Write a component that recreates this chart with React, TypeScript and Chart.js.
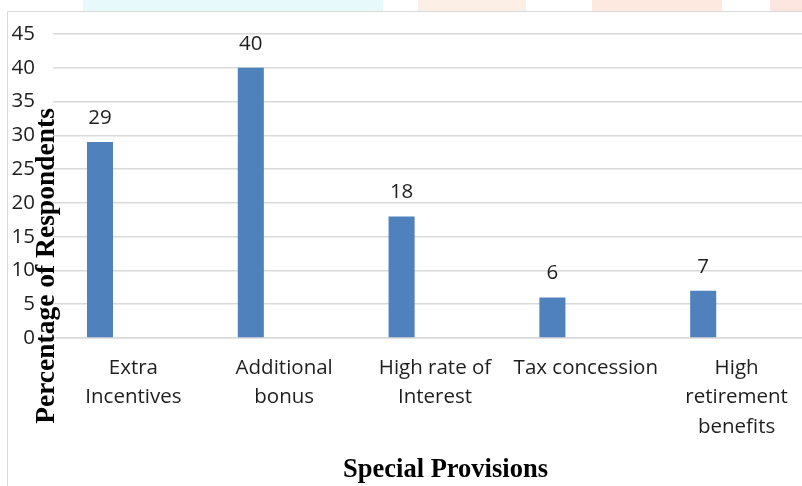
import React, { useEffect, useRef } from "react";
import { Chart, registerables } from "chart.js";

Chart.register(...registerables);

const categories: string[][] = [
  ["Extra", "Incentives"],
  ["Additional", "bonus"],
  ["High rate of", "Interest"],
  ["Tax concession"],
  ["High", "retirement", "benefits"],
];
const values: number[] = [29, 40, 18, 6, 7];
const emptySeries: (number | null)[] = [null, null, null, null, null];
const yMin = 0;
const yMax = 45;
const yStep = 5;
const yAxisTitle = "Percentage of Respondents";
const xAxisTitle = "Special Provisions";

const W = 812;
const H = 486;
const TEXT = "#1e1e1e";
const GRID = "#d9d9d9";
const TICK_FONT = "'Open Sans'";
const TICK_SIZE = 20.5;

const decorPlugin = {
  id: "decor",
  beforeDraw(chart: any) {
    const ctx = chart.ctx;
    ctx.save();
    ctx.fillStyle = "#ffffff";
    ctx.fillRect(0, 0, chart.width, chart.height);
    // faint page background bleed at the top
    ctx.fillStyle = "#e8f9fb";
    ctx.fillRect(83, 0, 300, 11);
    ctx.fillStyle = "#fcf0e6";
    ctx.fillRect(418, 0, 108, 11);
    ctx.fillStyle = "#fde9df";
    ctx.fillRect(592, 0, 130, 11);
    ctx.fillStyle = "#fde6e0";
    ctx.fillRect(770, 0, 40, 11);
    // chart frame
    ctx.strokeStyle = GRID;
    ctx.lineWidth = 1;
    ctx.beginPath();
    ctx.moveTo(7.5, chart.height);
    ctx.lineTo(7.5, 11.5);
    ctx.lineTo(chart.width, 11.5);
    ctx.stroke();
    ctx.restore();
  },
  afterDraw(chart: any) {
    const ctx = chart.ctx;
    ctx.save();
    // data labels
    const meta = chart.getDatasetMeta(0);
    ctx.fillStyle = TEXT;
    ctx.font = `${TICK_SIZE}px ${TICK_FONT}`;
    ctx.textAlign = "center";
    ctx.textBaseline = "alphabetic";
    meta.data.forEach((bar: any, i: number) => {
      ctx.fillText(String(values[i]), bar.x, bar.y - 18);
    });
    // axis titles
    ctx.fillStyle = "#000000";
    ctx.textAlign = "center";
    ctx.font = "bold 26.5px 'Liberation Serif', 'DejaVu Serif', serif";
    ctx.fillText(xAxisTitle, 445.5, 477);
    ctx.font = "bold 27.5px 'Liberation Serif', 'DejaVu Serif', serif";
    ctx.translate(54, 266);
    ctx.rotate(-Math.PI / 2);
    ctx.fillText(yAxisTitle, 0, 0);
    ctx.restore();
  },
};

export default function App() {
  const ref = useRef<HTMLCanvasElement | null>(null);

  useEffect(() => {
    if (!ref.current) return;
    const chart = new Chart(ref.current, {
      type: "bar",
      data: {
        labels: categories as any,
        datasets: [
          {
            label: "Percentage",
            data: values,
            backgroundColor: "#4f81bd",
            borderWidth: 0,
            categoryPercentage: 0.886,
            barPercentage: 0.39,
          },
          {
            label: "",
            data: emptySeries as any,
            backgroundColor: "#c0504d",
            borderWidth: 0,
            categoryPercentage: 0.886,
            barPercentage: 0.39,
          },
        ],
      },
      options: {
        responsive: false,
        animation: false,
        devicePixelRatio: 1,
        layout: { padding: { top: 34, left: 0, right: 0, bottom: 0 } },
        plugins: {
          legend: { display: false },
          tooltip: { enabled: false },
          title: { display: false },
        },
        scales: {
          x: {
            grid: { display: false, drawTicks: false },
            border: { display: true, color: GRID, width: 1.5 },
            ticks: {
              color: TEXT,
              font: { family: TICK_FONT, size: TICK_SIZE, lineHeight: 1.44 },
              padding: 15,
              maxRotation: 0,
              minRotation: 0,
              autoSkip: false,
            },
            afterFit(scale: any) {
              scale.height = H - 338;
            },
          },
          y: {
            min: yMin,
            max: yMax,
            grid: { color: GRID, lineWidth: 1.5, drawTicks: true, tickLength: 5 },
            border: { display: false },
            ticks: {
              stepSize: yStep,
              color: TEXT,
              font: { family: TICK_FONT, size: TICK_SIZE },
              padding: 18,
            },
            afterFit(scale: any) {
              scale.width = 58;
            },
          },
        },
      },
      plugins: [decorPlugin],
    });
    return () => chart.destroy();
  }, []);

  return (
    <div
      style={{
        position: "fixed",
        left: 0,
        top: 0,
        width: 802,
        height: 486,
        overflow: "hidden",
        background: "#ffffff",
      }}
    >
      <canvas ref={ref} width={W} height={H} style={{ width: W, height: H, display: "block" }} />
    </div>
  );
}
